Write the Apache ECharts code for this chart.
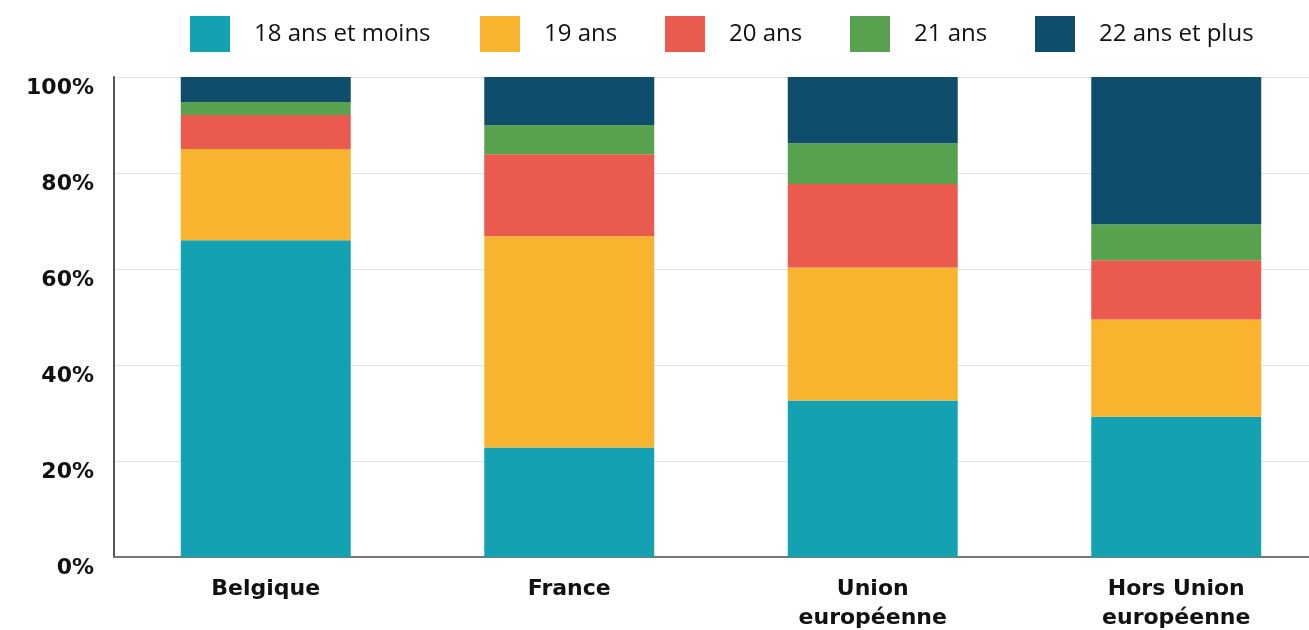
<!DOCTYPE html>
<html>
<head>
<meta charset="utf-8">
<script src="https://cdn.jsdelivr.net/npm/echarts@6/dist/echarts.min.js"></script>
<style>
  html, body { margin: 0; padding: 0; background: #fff; }
  #chart { width: 1309px; height: 630px; }
</style>
</head>
<body>
<div id="chart"></div>
<script>
  // categories and values (% of each group)
  const categories = ['Belgique', 'France', 'Union\neuropéenne', 'Hors Union\neuropéenne']
  const seriesNames = ['18 ans et moins', '19 ans', '20 ans', '21 ans', '22 ans et plus']
  const age18 = [66.0, 22.8, 32.6, 29.2]
  const age19 = [19.0, 44.0, 27.7, 20.3]
  const age20 = [7.1, 17.1, 17.4, 12.3]
  const age21 = [2.7, 6.1, 8.5, 7.5]
  const age22 = [5.2, 10.0, 13.8, 30.7]
  const yTicks = [0, 20, 40, 60, 80, 100]

  const colors = ['#14a2b2', '#f8b42e', '#ea5a4f', '#58a14f', '#0e4d6b']
  const allData = [age18, age19, age20, age21, age22]
  // one legend per item so the squares sit where the original puts them
  const legendLeft = [190, 480, 665, 850, 1035]

  const chart = echarts.init(document.getElementById('chart'))

  const legends = seriesNames.map((name, i) => ({
    left: legendLeft[i],
    top: 16,
    padding: 0,
    itemWidth: 40,
    itemHeight: 36,
    icon: 'rect',
    selectedMode: false,
    textStyle: {
      fontFamily: 'Open Sans',
      fontSize: 24,
      color: '#111',
      padding: [0, 0, 0, 19]
    },
    data: [name]
  }))

  const option = {
    animation: false,
    color: colors,
    legend: legends,
    // the plot runs a bit past the right edge of the picture
    grid: {
      left: 114,
      width: 1214,
      top: 77,
      bottom: 73,
      outerBoundsMode: 'none'
    },
    xAxis: {
      type: 'category',
      data: categories,
      axisTick: { show: false },
      axisLine: { lineStyle: { color: '#777', width: 2 } },
      axisLabel: {
        fontFamily: 'DejaVu Sans',
        fontWeight: 'bold',
        fontSize: 22,
        color: '#111',
        lineHeight: 29,
        margin: 18
      }
    },
    yAxis: {
      type: 'value',
      min: yTicks[0],
      max: yTicks[yTicks.length - 1],
      interval: 20,
      axisLine: { show: true, lineStyle: { color: '#555', width: 2 } },
      axisTick: { show: false },
      splitLine: { lineStyle: { color: '#e2e2e2', width: 1 } },
      axisLabel: {
        formatter: '{value}%',
        fontFamily: 'DejaVu Sans',
        fontWeight: 'bold',
        fontSize: 22,
        color: '#111',
        margin: 20,
        verticalAlign: 'top'
      }
    },
    series: seriesNames.map((name, i) => ({
      name: name,
      type: 'bar',
      stack: 'total',
      barWidth: '56%',
      data: allData[i],
      itemStyle: { color: colors[i] }
    }))
  }

  chart.setOption(option)
</script>
</body>
</html>
